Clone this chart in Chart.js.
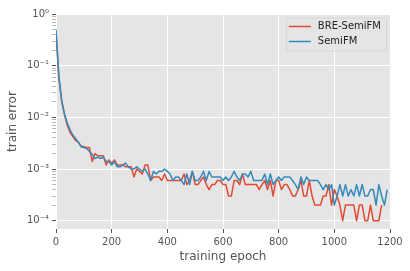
<!DOCTYPE html>
<html>
<head>
<meta charset="utf-8">
<script src="https://cdn.jsdelivr.net/npm/chart.js@4/dist/chart.umd.min.js"></script>
<style>
  html, body { margin: 0; padding: 0; background: #fff; }
  #chart { display: block; }
</style>
</head>
<body>
<canvas id="chart" width="410" height="271"></canvas>
<script>
// training epochs (x)
const epochs = [
  0, 10, 20, 30, 40, 50, 60, 70, 80, 90, 100, 110, 120, 130, 140, 150, 160, 170, 180, 190,
  200, 210, 220, 230, 240, 250, 260, 270, 280, 290, 300, 310, 320, 330, 340, 350, 360, 370, 380, 390,
  400, 410, 420, 430, 440, 450, 460, 470, 480, 490, 500, 510, 520, 530, 540, 550, 560, 570, 580, 590,
  600, 610, 620, 630, 640, 650, 660, 670, 680, 690, 700, 710, 720, 730, 740, 750, 760, 770, 780, 790,
  800, 810, 820, 830, 840, 850, 860, 870, 880, 890, 900, 910, 920, 930, 940, 950, 960, 970, 980, 990,
  1000, 1010, 1020, 1030, 1040, 1050, 1060, 1070, 1080, 1090, 1100, 1110, 1120, 1130, 1140, 1150, 1160, 1170, 1180, 1190
];

const breSemiFM = [
  0.45, 0.06, 0.021, 0.0115, 0.0072, 0.0052, 0.0043, 0.0036, 0.0033, 0.0028,
  0.0027, 0.0026, 0.0026, 0.0014, 0.0020, 0.0018, 0.0018, 0.0018, 0.0012, 0.0015,
  0.0013, 0.0015, 0.0012, 0.0012, 0.0012, 0.0011, 0.0011, 0.0011, 0.0007, 0.0010,
  0.0009, 0.0008, 0.0012, 0.0012, 0.0006, 0.0007, 0.0007, 0.0007, 0.0006, 0.0008,
  0.0006, 0.0006, 0.0006, 0.0006, 0.0006, 0.0006, 0.0008, 0.0005, 0.0006, 0.0009,
  0.0005, 0.0005, 0.0006, 0.0007, 0.0005, 0.0004, 0.0005, 0.0005, 0.0006, 0.0006,
  0.0005, 0.0005, 0.0003, 0.0003, 0.0006, 0.0006, 0.0005, 0.0008, 0.0005, 0.0005,
  0.0005, 0.0005, 0.0005, 0.0004, 0.0005, 0.0006, 0.0004, 0.0006, 0.0003, 0.0006,
  0.0006, 0.0004, 0.0005, 0.0005, 0.0004, 0.0003, 0.0003, 0.0004, 0.0006, 0.0003,
  0.0003, 0.0006, 0.0003, 0.0002, 0.0002, 0.0002, 0.0003, 0.0003, 0.0005, 0.0002,
  0.0004, 0.0003, 0.0002, 0.0001, 0.0002, 0.0002, 0.0002, 0.0002, 0.0001, 0.0002,
  0.0002, 0.0001, 0.0001, 0.0002, 0.0001, 0.0001, 0.0001, 0.0002, 0, null
];

const semiFM = [
  0.5, 0.065, 0.022, 0.012, 0.0078, 0.0058, 0.0046, 0.0039, 0.0033, 0.0027,
  0.0026, 0.0025, 0.0022, 0.0019, 0.0016, 0.0017, 0.0016, 0.0017, 0.0014, 0.0014,
  0.0012, 0.0014, 0.0011, 0.0011, 0.0012, 0.0013, 0.0011, 0.0010, 0.0010, 0.0011,
  0.0010, 0.0009, 0.0010, 0.0008, 0.0006, 0.0009, 0.0008, 0.0009, 0.0009, 0.0010,
  0.0009, 0.0008, 0.0006, 0.0007, 0.0007, 0.0006, 0.0005, 0.0008, 0.0005, 0.0009,
  0.0006, 0.0006, 0.0007, 0.0009, 0.0006, 0.0009, 0.0007, 0.0007, 0.0007, 0.0007,
  0.0006, 0.0007, 0.0006, 0.0007, 0.0009, 0.0007, 0.0006, 0.0008, 0.0008, 0.0007,
  0.0009, 0.0006, 0.0006, 0.0006, 0.0006, 0.0008, 0.0005, 0.0008, 0.0005, 0.0006,
  0.0007, 0.0006, 0.0007, 0.0007, 0.0007, 0.0006, 0.0005, 0.0004, 0.0007, 0.0005,
  0.0007, 0.0006, 0.0006, 0.0006, 0.0006, 0.0005, 0.0004, 0.0005, 0.0004, 0.0005,
  0.0002, 0.0003, 0.0005, 0.0003, 0.0005, 0.0003, 0.0004, 0.0003, 0.0005, 0.0003,
  0.0005, 0.0003, 0.0003, 0.0004, 0.0004, 0.0002, 0.0005, 0.0003, 0.0002, 0.0004
];

const xTicks = [0, 200, 400, 600, 800, 1000, 1200];
const yDecades = [-4, -3, -2, -1, 0];

const FONT = "'DejaVu Sans', sans-serif";
const SUP = { '0': '\u2070', '1': '\u00b9', '2': '\u00b2', '3': '\u00b3', '4': '\u2074', '-': '\u207b' };

function isMajor(v) {
  const l = Math.log10(v);
  return Math.abs(l - Math.round(l)) < 1e-9;
}

// grey plot background, ggplot style
const bgPlugin = {
  id: 'plotBg',
  beforeDraw(chart) {
    const { ctx, chartArea: a } = chart;
    ctx.save();
    ctx.fillStyle = '#E5E5E5';
    ctx.fillRect(a.left, a.top, a.right - a.left, a.bottom - a.top);
    ctx.restore();
  }
};

// legend inside the upper right corner of the axes
const legendPlugin = {
  id: 'insideLegend',
  afterDraw(chart) {
    const { ctx, chartArea: a } = chart;
    const sets = chart.data.datasets;
    ctx.save();
    ctx.font = '10px ' + FONT;
    let textW = 0;
    sets.forEach(d => { textW = Math.max(textW, ctx.measureText(d.label).width); });
    const w = 3 + 22 + 7 + textW + 5;
    const h = 33;
    const x = a.right - 4 - w;
    const y = a.top + 3.5;
    ctx.beginPath();
    ctx.roundRect(x + 0.5, y + 0.5, w, h, 2);
    ctx.fillStyle = 'rgba(229,229,229,0.8)';
    ctx.fill();
    ctx.strokeStyle = '#D6D6D6';
    ctx.lineWidth = 1;
    ctx.stroke();
    sets.forEach((d, i) => {
      const cy = y + 9 + i * 15;
      ctx.beginPath();
      ctx.moveTo(x + 3, cy);
      ctx.lineTo(x + 25, cy);
      ctx.strokeStyle = d.borderColor;
      ctx.lineWidth = 1.5;
      ctx.stroke();
      ctx.fillStyle = '#222';
      ctx.textBaseline = 'middle';
      ctx.fillText(d.label, x + 32, cy);
    });
    ctx.restore();
  }
};

new Chart(document.getElementById('chart').getContext('2d'), {
  type: 'line',
  data: {
    datasets: [
      {
        label: 'BRE-SemiFM',
        data: epochs.map((e, i) => ({ x: e, y: breSemiFM[i] })),
        borderColor: '#E24A33',
        borderWidth: 1.5,
        pointRadius: 0,
        tension: 0,
        fill: false,
        borderJoinStyle: 'round',
        order: 1
      },
      {
        label: 'SemiFM',
        data: epochs.map((e, i) => ({ x: e, y: semiFM[i] })),
        borderColor: '#348ABD',
        borderWidth: 1.5,
        pointRadius: 0,
        tension: 0,
        fill: false,
        borderJoinStyle: 'round',
        order: 0
      }
    ]
  },
  options: {
    responsive: false,
    animation: false,
    devicePixelRatio: 1,
    layout: { padding: { top: 14, right: 20, left: 0, bottom: 0 } },
    plugins: {
      legend: { display: false },
      tooltip: { enabled: false }
    },
    scales: {
      x: {
        type: 'linear',
        min: 0,
        max: 1200,
        afterFit(s) { s.height = 42; },
        afterBuildTicks(s) { s.ticks = xTicks.map(v => ({ value: v })); },
        grid: { color: '#FFFFFF', lineWidth: 1, tickColor: '#555555', tickLength: 4, tickWidth: 1 },
        border: { display: false },
        ticks: {
          color: '#555555',
          font: { family: FONT, size: 10 },
          padding: 3,
          maxRotation: 0,
          autoSkip: false,
          callback(v) { return String(v); }
        },
        title: { display: true, text: 'training epoch', color: '#555555', font: { family: FONT, size: 12 }, padding: { top: 0, bottom: 7 } }
      },
      y: {
        type: 'logarithmic',
        min: 6.9e-5,
        max: 1,
        afterFit(s) { s.width = 56; },
        afterBuildTicks(s) {
          const t = [];
          yDecades.forEach(p => {
            for (let k = 1; k <= 9; k++) {
              const v = k * Math.pow(10, p);
              if (v >= s.min && v <= s.max * 1.0001) t.push({ value: v, major: k === 1 });
            }
          });
          s.ticks = t;
        },
        grid: {
          color: c => (c.tick && isMajor(c.tick.value)) ? '#FFFFFF' : 'rgba(0,0,0,0)',
          lineWidth: 1,
          tickColor: c => (c.tick && isMajor(c.tick.value)) ? '#555555' : '#8a8a8a',
          tickWidth: c => (c.tick && isMajor(c.tick.value)) ? 1 : 0.6,
          tickLength: 4
        },
        border: { display: false },
        ticks: {
          color: '#555555',
          font: { family: FONT, size: 10 },
          padding: 3,
          autoSkip: false,
          callback(v) {
            if (!isMajor(v)) return '';
            const p = String(Math.round(Math.log10(v)));
            return '10' + p.split('').map(ch => SUP[ch]).join('');
          }
        },
        title: { display: true, text: 'train error', color: '#555555', font: { family: FONT, size: 12 }, padding: { top: 6, bottom: 0 } }
      }
    }
  },
  plugins: [bgPlugin, legendPlugin]
});
</script>
</body>
</html>
